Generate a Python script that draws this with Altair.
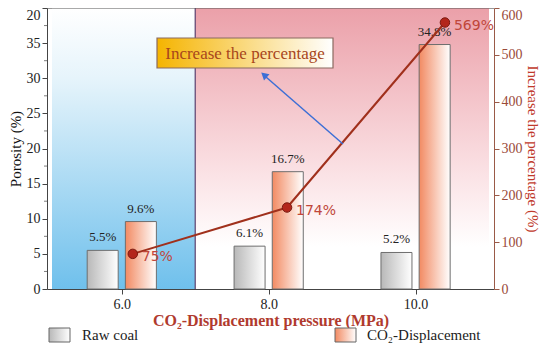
import altair as alt
import pandas as pd

# ---------------- data ----------------
pressures = [6.0, 8.0, 10.0]
raw_coal = [5.5, 6.1, 5.2]
co2_disp = [9.6, 16.7, 34.8]
increase = [75, 174, 569]
line_pressure = [6.15, 8.25, 10.4]   # where the increase points sit
raw_labels = ["5.5%", "6.1%", "5.2%"]
co2_labels = ["9.6%", "16.7%", "34.8%"]
inc_labels = ["75%", "174%", "569%"]
left_ticks = [0, 5, 10, 15, 20, 25, 30, 35, 40]
minor_ticks = [2.5, 7.5, 12.5, 17.5, 22.5, 27.5, 32.5, 37.5]
right_ticks = [0, 100, 200, 300, 400, 500, 600]

W, H = 447, 281
XDOM = [5.05, 11.0]
SERIF = "Liberation Serif"

bars = pd.DataFrame({
    "p": pressures * 2,
    "v": raw_coal + co2_disp,
    "lab": raw_labels + co2_labels,
    "s": ["raw"] * 3 + ["co2"] * 3,
})
line_df = pd.DataFrame({"p": line_pressure, "inc": increase, "lab": inc_labels})
bg = pd.DataFrame({"x0": [XDOM[0], 7.0], "x1": [7.0, XDOM[1]], "zone": ["a", "b"]})

xs = alt.Scale(domain=XDOM, nice=False, zero=False)
ys = alt.Scale(domain=[0, 40], nice=False)
rs = alt.Scale(domain=[0, 600], nice=False)

blue_grad = alt.Gradient(gradient="linear", x1=0, y1=0, x2=0, y2=1,
                         stops=[alt.GradientStop(color="#ffffff", offset=0),
                                alt.GradientStop(color="#e6f4fb", offset=0.25),
                                alt.GradientStop(color="#6fc0ec", offset=1)])
pink_grad = alt.Gradient(gradient="linear", x1=0, y1=0, x2=0, y2=1,
                         stops=[alt.GradientStop(color="#eba0a9", offset=0),
                                alt.GradientStop(color="#fbe3e6", offset=0.6),
                                alt.GradientStop(color="#ffffff", offset=0.85)])
gray_grad = alt.Gradient(gradient="linear", x1=0, y1=0, x2=1, y2=0,
                         stops=[alt.GradientStop(color="#b8b8b8", offset=0),
                                alt.GradientStop(color="#ffffff", offset=1)])
orange_grad = alt.Gradient(gradient="linear", x1=0, y1=0, x2=1, y2=0,
                           stops=[alt.GradientStop(color="#f28a62", offset=0),
                                  alt.GradientStop(color="#ffffff", offset=1)])
box_grad = alt.Gradient(gradient="linear", x1=0, y1=0, x2=1, y2=0,
                        stops=[alt.GradientStop(color="#f5b400", offset=0),
                               alt.GradientStop(color="#ffffff", offset=1)])

x_axis = alt.Axis(values=pressures, format=".1f", title="CO₂-Displacement pressure (MPa)",
                  labelFont=SERIF, labelFontSize=14, labelColor="#222222", labelPadding=3,
                  titleFont=SERIF, titleFontSize=16, titleFontWeight="bold",
                  titleColor="#b03a2e", titleY=31, titleBaseline="middle",
                  tickSize=5, tickColor="#444444",
                  domainColor="#444444", grid=False)
left_axis = alt.Axis(values=left_ticks, title="Porosity (%)",
                     labelExpr="datum.value == 40 ? '20' : datum.label",
                     labelBaseline={"condition": {"test": "datum.value == 40", "value": "top"}, "value": "middle"},
                     labelFont=SERIF, labelFontSize=14, labelColor="#222222", labelPadding=2,
                     titleFont=SERIF, titleFontSize=15, titleFontWeight="normal",
                     titleColor="#111111", titlePadding=3, tickSize=5, tickColor="#444444",
                     domainColor="#444444", grid=False)
right_axis = alt.Axis(values=right_ticks, title="Increase the percentage (%)", orient="right",
                      labelBaseline={"condition": {"test": "datum.value == 600", "value": "top"}, "value": "middle"},
                      labelFont=SERIF, labelFontSize=14, labelColor="#9a4a3a", labelPadding=2,
                      titleFont=SERIF, titleFontSize=15, titleFontWeight="normal",
                      titleColor="#c0392b", titlePadding=2, tickSize=5, tickColor="#9a5a48",
                      domainColor="#9a5a48", grid=False)

X = lambda f: alt.X(f, scale=xs, axis=x_axis)
YL = lambda f: alt.Y(f, scale=ys, axis=left_axis)
YR = lambda f: alt.Y(f, scale=rs, axis=right_axis)

base = alt.Chart(bars)

bg_a = alt.Chart(bg).transform_filter("datum.zone == 'a'").mark_rect(fill=blue_grad).encode(
    x=X("x0:Q"), x2="x1", y=alt.value(0), y2=alt.value(H))
bg_b = alt.Chart(bg).transform_filter("datum.zone == 'b'").mark_rect(fill=pink_grad).encode(
    x=X("x0:Q"), x2="x1", y=alt.value(0), y2=alt.value(H))
divider = alt.Chart(bg).transform_filter("datum.zone == 'a'").mark_rule(
    color="#5a3f6e", strokeWidth=1.2).encode(
    x=X("x1:Q"), y=alt.value(0), y2=alt.value(H))
topline = alt.Chart(bg).transform_filter("datum.zone == 'a'").mark_rule(
    color="#555555", strokeWidth=1).encode(
    x=alt.value(0), x2=alt.value(W), y=alt.value(0))

minor = alt.Chart(pd.DataFrame({"m": minor_ticks})).mark_tick(
    orient="horizontal", color="#444444", size=3, thickness=1).encode(
    y=YL("m:Q"), x=alt.value(-1.5))

bar_raw = base.transform_filter("datum.s == 'raw'").transform_calculate(
    xp="datum.p - 0.26").mark_bar(size=31, fill=gray_grad, stroke="#6e6e6e", strokeWidth=1).encode(
    x=X("xp:Q"), y=YL("v:Q"))
bar_co2 = base.transform_filter("datum.s == 'co2'").transform_calculate(
    xp="datum.p + 0.26").mark_bar(size=31, fill=orange_grad, stroke="#6e6e6e", strokeWidth=1).encode(
    x=X("xp:Q"), y=YL("v:Q"))
bar_text = base.transform_calculate(
    xp="datum.s == 'raw' ? datum.p - 0.26 : datum.p + 0.26").mark_text(
    font=SERIF, fontSize=13, color="#222222", dy=-13).encode(
    x=X("xp:Q"), y=YL("v:Q"), text="lab:N")

left_layer = alt.layer(bg_a, bg_b, divider, topline, minor, bar_raw, bar_co2, bar_text)

inc_line = alt.Chart(line_df).mark_line(color="#a0301c", strokeWidth=2).encode(
    x=X("p:Q"), y=YR("inc:Q"))
inc_pts = alt.Chart(line_df).mark_point(filled=True, size=90, color="#b3261b",
                                        stroke="#7a1a10", strokeWidth=1, opacity=1).encode(
    x=X("p:Q"), y=YR("inc:Q"))
inc_text = alt.Chart(line_df).mark_text(font="DejaVu Sans", fontSize=14, color="#c0463a",
                                         align="left", dx=9, dy=3).encode(
    x=X("p:Q"), y=YR("inc:Q"), text="lab:N")
right_layer = alt.layer(inc_line, inc_pts, inc_text)

# annotation box and arrow (pixel positions relative to plot area)
ann = pd.DataFrame({"t": ["Increase the percentage"]})
box = alt.Chart(ann).mark_rect(fill=box_grad, stroke="#8a6a60", strokeWidth=1.2).encode(
    x=alt.value(110), x2=alt.value(286), y=alt.value(30), y2=alt.value(60))
box_text = alt.Chart(ann).mark_text(font=SERIF, fontSize=17, color="#a8461c").encode(
    x=alt.value(198), y=alt.value(46), text="t:N")
arrow = alt.Chart(ann).mark_rule(color="#3d6fd6", strokeWidth=1.5).encode(
    x=alt.value(296), y=alt.value(136), x2=alt.value(219), y2=alt.value(69))
arrow_head = alt.Chart(ann).mark_point(shape="triangle-up", filled=True, color="#3d6fd6",
                                       size=70, angle=311, opacity=1).encode(
    x=alt.value(217), y=alt.value(67))

# legend
leg = pd.DataFrame({"t": ["Raw coal", "CO₂-Displacement"], "k": ["raw", "co2"]})
leg_raw = alt.Chart(leg).transform_filter("datum.k == 'raw'").mark_rect(
    fill=gray_grad, stroke="#666666", strokeWidth=1).encode(
    x=alt.value(2), x2=alt.value(23), y=alt.value(320), y2=alt.value(334))
leg_co2 = alt.Chart(leg).transform_filter("datum.k == 'co2'").mark_rect(
    fill=orange_grad, stroke="#666666", strokeWidth=1).encode(
    x=alt.value(288), x2=alt.value(309), y=alt.value(320), y2=alt.value(334))
leg_t1 = alt.Chart(leg).transform_filter("datum.k == 'raw'").mark_text(
    font=SERIF, fontSize=15, color="#222222", align="left").encode(
    x=alt.value(35), y=alt.value(327), text="t:N")
leg_t2 = alt.Chart(leg).transform_filter("datum.k == 'co2'").mark_text(
    font=SERIF, fontSize=15, color="#222222", align="left").encode(
    x=alt.value(320), y=alt.value(327), text="t:N")

deco = alt.layer(box, box_text, arrow, arrow_head, leg_raw, leg_co2, leg_t1, leg_t2)

chart = alt.layer(left_layer, right_layer, deco).resolve_scale(y="independent").properties(
    width=W, height=H,
    autosize=alt.AutoSizeParams(type="none"),
    padding={"left": 39, "top": 0, "right": 48, "bottom": 54},
).configure_view(stroke=None).configure(background="#ffffff")

chart.save("out.html", embed_options={"renderer": "svg", "actions": False})
